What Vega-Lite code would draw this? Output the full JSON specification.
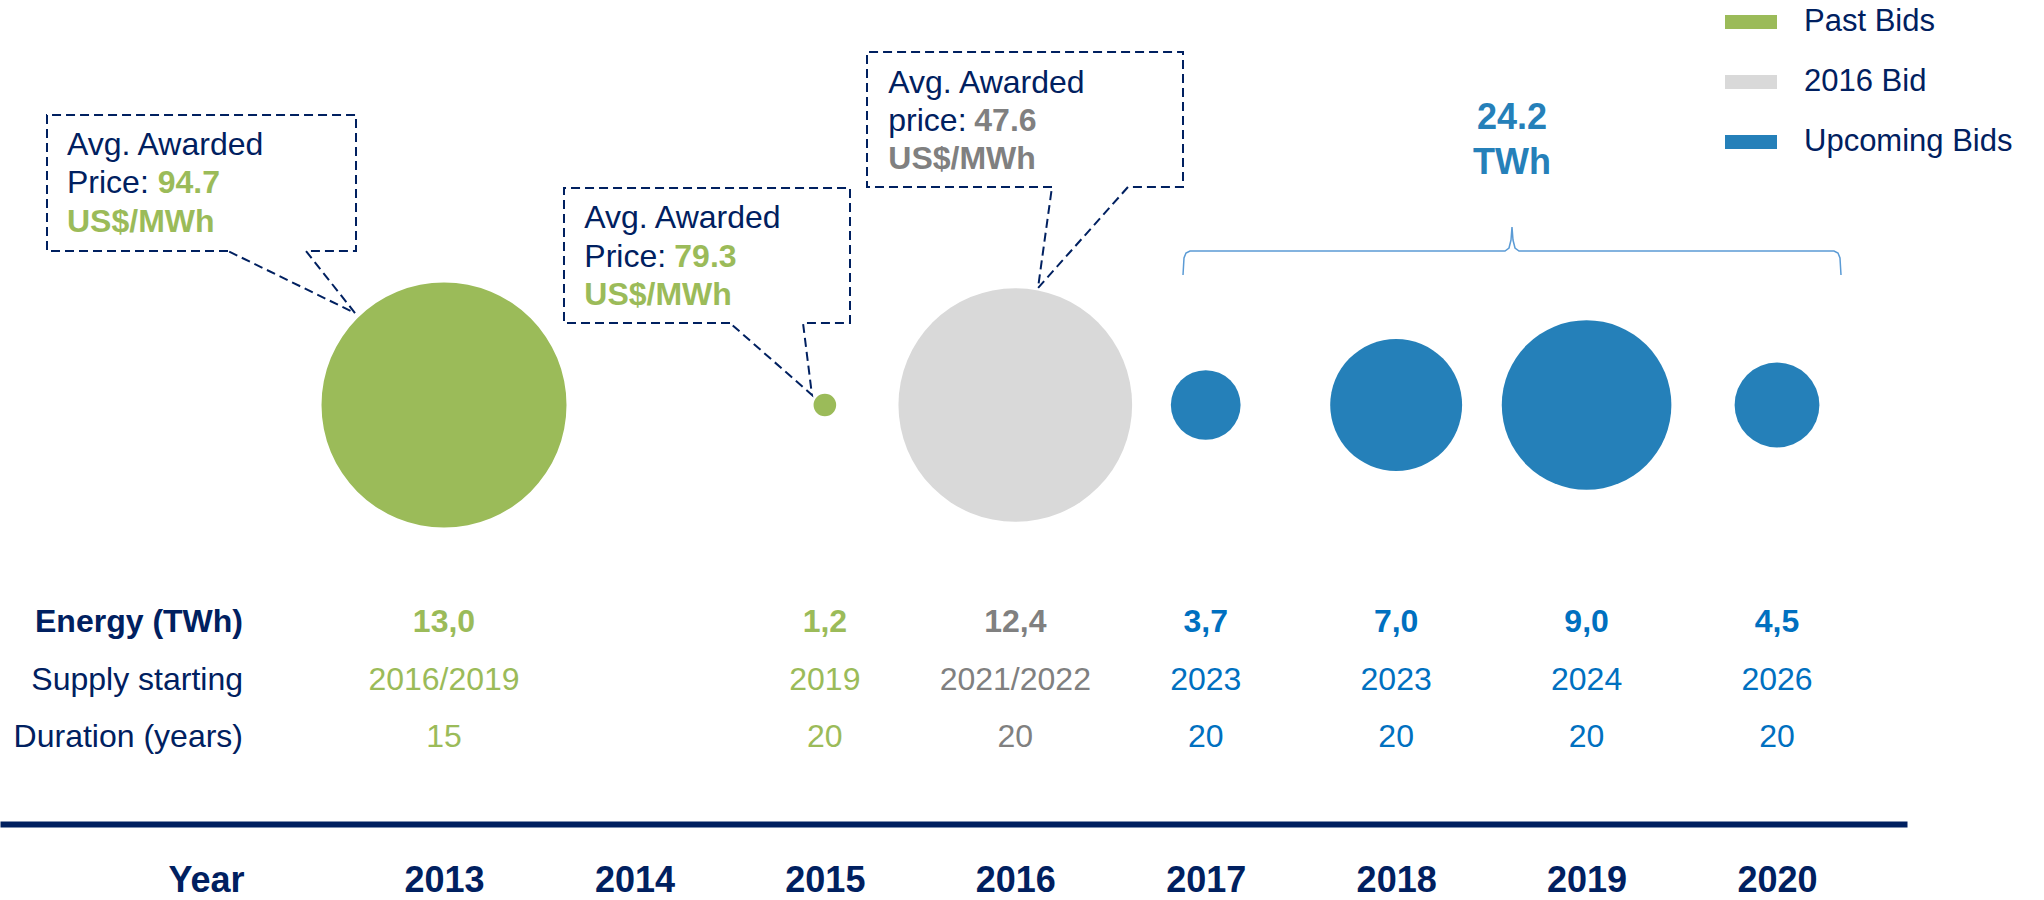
{
  "$schema": "https://vega.github.io/schema/vega-lite/v6.json",
  "width": 1907,
  "height": 824,
  "autosize": {"type": "none"},
  "padding": {"left": 0, "top": 0, "right": 137, "bottom": 76},
  "background": "white",
  "config": {"view": {"stroke": null}, "font": "Liberation Sans"},
  "datasets": {
    "bids": [
      {"year": 2013, "energy": 13.0, "energyText": "13,0", "supply": "2016/2019", "duration": "15", "cat": "Past Bids", "price": 94.7},
      {"year": 2015, "energy": 1.2, "energyText": "1,2", "supply": "2019", "duration": "20", "cat": "Past Bids", "price": 79.3},
      {"year": 2016, "energy": 12.4, "energyText": "12,4", "supply": "2021/2022", "duration": "20", "cat": "2016 Bid", "price": 47.6},
      {"year": 2017, "energy": 3.7, "energyText": "3,7", "supply": "2023", "duration": "20", "cat": "Upcoming Bids"},
      {"year": 2018, "energy": 7.0, "energyText": "7,0", "supply": "2023", "duration": "20", "cat": "Upcoming Bids"},
      {"year": 2019, "energy": 9.0, "energyText": "9,0", "supply": "2024", "duration": "20", "cat": "Upcoming Bids"},
      {"year": 2020, "energy": 4.5, "energyText": "4,5", "supply": "2026", "duration": "20", "cat": "Upcoming Bids"}
    ],
    "one": [{}],
    "callouts": [
      {"id": 1, "i": 1, "x": 2011.8657, "y": 69.54},
      {"id": 1, "i": 2, "x": 2010.9152, "y": 69.54},
      {"id": 1, "i": 3, "x": 2010.9152, "y": 86.04},
      {"id": 1, "i": 4, "x": 2012.5379, "y": 86.04},
      {"id": 1, "i": 5, "x": 2012.5379, "y": 69.54},
      {"id": 1, "i": 6, "x": 2012.2753, "y": 69.54},
      {"id": 1, "i": 7, "x": 2012.5326, "y": 62.01},
      {"id": 1, "i": 8, "x": 2011.8657, "y": 69.54},
      {"id": 2, "i": 1, "x": 2014.5018, "y": 60.80},
      {"id": 2, "i": 2, "x": 2013.6301, "y": 60.80},
      {"id": 2, "i": 3, "x": 2013.6301, "y": 77.18},
      {"id": 2, "i": 4, "x": 2015.1320, "y": 77.18},
      {"id": 2, "i": 5, "x": 2015.1320, "y": 60.80},
      {"id": 2, "i": 6, "x": 2014.8852, "y": 60.80},
      {"id": 2, "i": 7, "x": 2014.9324, "y": 52.06},
      {"id": 2, "i": 8, "x": 2014.5018, "y": 60.80},
      {"id": 3, "i": 1, "x": 2016.1927, "y": 77.31},
      {"id": 3, "i": 2, "x": 2015.2213, "y": 77.31},
      {"id": 3, "i": 3, "x": 2015.2213, "y": 93.69},
      {"id": 3, "i": 4, "x": 2016.8807, "y": 93.69},
      {"id": 3, "i": 5, "x": 2016.8807, "y": 77.31},
      {"id": 3, "i": 6, "x": 2016.5918, "y": 77.31},
      {"id": 3, "i": 7, "x": 2016.1192, "y": 65.05},
      {"id": 3, "i": 8, "x": 2016.1927, "y": 77.31}
    ],
    "brace": [
      {"i": 1, "x": 2016.8807, "y": 66.63},
      {"i": 2, "x": 2016.8859, "y": 68.69},
      {"i": 3, "x": 2016.8964, "y": 69.30},
      {"i": 4, "x": 2016.9174, "y": 69.54},
      {"i": 5, "x": 2018.5716, "y": 69.54},
      {"i": 6, "x": 2018.5926, "y": 69.90},
      {"i": 7, "x": 2018.6031, "y": 70.87},
      {"i": 8, "x": 2018.6083, "y": 72.45},
      {"i": 9, "x": 2018.6136, "y": 70.87},
      {"i": 10, "x": 2018.6241, "y": 69.90},
      {"i": 11, "x": 2018.6451, "y": 69.54},
      {"i": 12, "x": 2020.2992, "y": 69.54},
      {"i": 13, "x": 2020.3202, "y": 69.30},
      {"i": 14, "x": 2020.3307, "y": 68.69},
      {"i": 15, "x": 2020.3360, "y": 66.63}
    ]
  },
  "layer": [
    {
      "data": {"name": "bids"},
      "mark": {"type": "circle", "opacity": 1, "strokeWidth": 0},
      "encoding": {
        "x": {
          "field": "year", "type": "quantitative",
          "scale": {"domain": [2010.6684, 2020.6826], "nice": false, "zero": false},
          "axis": {
            "values": [2013, 2014, 2015, 2016, 2017, 2018, 2019, 2020],
            "format": "d", "grid": false, "ticks": false, "tickSize": 0,
            "domain": true, "domainColor": "#002060", "domainWidth": 6,
            "labelFont": "Liberation Sans", "labelFontSize": 36, "labelFontWeight": "bold",
            "labelColor": "#002060", "labelPadding": 67, "labelBaseline": "alphabetic",
            "labelFlush": false, "labelOverlap": false,
            "title": "Year", "titleFont": "Liberation Sans", "titleFontSize": 36,
            "titleFontWeight": "bold", "titleColor": "#002060",
            "titleX": 206, "titleY": 67, "titleBaseline": "alphabetic", "titleAlign": "center"
          }
        },
        "y": {"datum": 50.85, "type": "quantitative", "scale": {"domain": [0, 100], "nice": false, "zero": false}, "axis": null},
        "size": {"field": "energy", "type": "quantitative", "scale": {"type": "pow", "exponent": 2, "domain": [0, 13], "range": [0, 60025]}, "legend": null},
        "color": {
          "field": "cat", "type": "nominal",
          "scale": {"domain": ["Past Bids", "2016 Bid", "Upcoming Bids"], "range": ["#9BBB59", "#D9D9D9", "#2580B9"]},
          "legend": {
            "title": null, "orient": "none", "legendX": 1725, "legendY": -4,
            "symbolType": "M-1,-0.27L1,-0.27L1,0.27L-1,0.27Z", "symbolSize": 2704,
            "symbolStrokeWidth": 0, "symbolOpacity": 1,
            "labelFont": "Liberation Sans", "labelFontSize": 31, "labelColor": "#002060",
            "labelOffset": 27, "rowPadding": 19, "padding": 0, "labelLimit": 400
          }
        }
      }
    },
    {
      "data": {"name": "callouts"},
      "mark": {"type": "line", "strokeDash": [9, 5], "strokeWidth": 2, "color": "#002060"},
      "encoding": {
        "x": {"field": "x", "type": "quantitative", "scale": {"domain": [2010.6684, 2020.6826], "nice": false, "zero": false}},
        "y": {"field": "y", "type": "quantitative", "scale": {"domain": [0, 100], "nice": false, "zero": false}, "axis": null},
        "detail": {"field": "id", "type": "nominal"},
        "order": {"field": "i", "type": "quantitative"}
      }
    },
    {
      "data": {"name": "brace"},
      "mark": {"type": "line", "strokeWidth": 1.5, "color": "#5B9BD5"},
      "encoding": {
        "x": {"field": "x", "type": "quantitative", "scale": {"domain": [2010.6684, 2020.6826], "nice": false, "zero": false}},
        "y": {"field": "y", "type": "quantitative", "scale": {"domain": [0, 100], "nice": false, "zero": false}, "axis": null},
        "order": {"field": "i", "type": "quantitative"}
      }
    },
    {
      "data": {"name": "bids"},
      "mark": {"type": "text", "fontSize": 32, "fontWeight": "bold", "baseline": "alphabetic", "align": "center"},
      "encoding": {
        "x": {"field": "year", "type": "quantitative", "scale": {"domain": [2010.6684, 2020.6826], "nice": false, "zero": false}},
        "y": {"datum": 23.30, "type": "quantitative", "scale": {"domain": [0, 100], "nice": false, "zero": false}, "axis": null},
        "text": {"field": "energyText"},
        "color": {"field": "cat", "type": "nominal", "scale": {"domain": ["Past Bids", "2016 Bid", "Upcoming Bids"], "range": ["#9BBB59", "#808080", "#0070C0"]}, "legend": null}
      }
    },
    {
      "data": {"name": "bids"},
      "mark": {"type": "text", "fontSize": 32, "baseline": "alphabetic", "align": "center"},
      "encoding": {
        "x": {"field": "year", "type": "quantitative", "scale": {"domain": [2010.6684, 2020.6826], "nice": false, "zero": false}},
        "y": {"datum": 16.26, "type": "quantitative", "scale": {"domain": [0, 100], "nice": false, "zero": false}, "axis": null},
        "text": {"field": "supply"},
        "color": {"field": "cat", "type": "nominal", "scale": {"domain": ["Past Bids", "2016 Bid", "Upcoming Bids"], "range": ["#9BBB59", "#808080", "#0070C0"]}, "legend": null}
      }
    },
    {
      "data": {"name": "bids"},
      "mark": {"type": "text", "fontSize": 32, "baseline": "alphabetic", "align": "center"},
      "encoding": {
        "x": {"field": "year", "type": "quantitative", "scale": {"domain": [2010.6684, 2020.6826], "nice": false, "zero": false}},
        "y": {"datum": 9.34, "type": "quantitative", "scale": {"domain": [0, 100], "nice": false, "zero": false}, "axis": null},
        "text": {"field": "duration"},
        "color": {"field": "cat", "type": "nominal", "scale": {"domain": ["Past Bids", "2016 Bid", "Upcoming Bids"], "range": ["#9BBB59", "#808080", "#0070C0"]}, "legend": null}
      }
    },
    {
      "data": {"name": "one"},
      "mark": {"type": "text", "text": "Energy (TWh)", "fontSize": 32, "fontWeight": "bold", "baseline": "alphabetic", "align": "right", "color": "#002060"},
      "encoding": {
        "x": {"datum": 2011.9445, "type": "quantitative", "scale": {"domain": [2010.6684, 2020.6826], "nice": false, "zero": false}},
        "y": {"datum": 23.30, "type": "quantitative", "scale": {"domain": [0, 100], "nice": false, "zero": false}, "axis": null}
      }
    },
    {
      "data": {"name": "one"},
      "mark": {"type": "text", "text": "Supply starting", "fontSize": 32, "baseline": "alphabetic", "align": "right", "color": "#002060"},
      "encoding": {
        "x": {"datum": 2011.9445, "type": "quantitative", "scale": {"domain": [2010.6684, 2020.6826], "nice": false, "zero": false}},
        "y": {"datum": 16.26, "type": "quantitative", "scale": {"domain": [0, 100], "nice": false, "zero": false}, "axis": null}
      }
    },
    {
      "data": {"name": "one"},
      "mark": {"type": "text", "text": "Duration (years)", "fontSize": 32, "baseline": "alphabetic", "align": "right", "color": "#002060"},
      "encoding": {
        "x": {"datum": 2011.9445, "type": "quantitative", "scale": {"domain": [2010.6684, 2020.6826], "nice": false, "zero": false}},
        "y": {"datum": 9.34, "type": "quantitative", "scale": {"domain": [0, 100], "nice": false, "zero": false}, "axis": null}
      }
    },
    {
      "data": {"name": "one"},
      "mark": {"type": "text", "text": "24.2", "fontSize": 36, "fontWeight": "bold", "baseline": "alphabetic", "align": "center", "color": "#2580B9"},
      "encoding": {
        "x": {"datum": 2018.6083, "type": "quantitative", "scale": {"domain": [2010.6684, 2020.6826], "nice": false, "zero": false}},
        "y": {"datum": 84.31, "type": "quantitative", "scale": {"domain": [0, 100], "nice": false, "zero": false}, "axis": null}
      }
    },
    {
      "data": {"name": "one"},
      "mark": {"type": "text", "text": "TWh", "fontSize": 36, "fontWeight": "bold", "baseline": "alphabetic", "align": "center", "color": "#2580B9"},
      "encoding": {
        "x": {"datum": 2018.6083, "type": "quantitative", "scale": {"domain": [2010.6684, 2020.6826], "nice": false, "zero": false}},
        "y": {"datum": 78.85, "type": "quantitative", "scale": {"domain": [0, 100], "nice": false, "zero": false}, "axis": null}
      }
    },
    {
      "data": {"name": "one"},
      "mark": {"type": "text", "text": "Avg. Awarded", "fontSize": 32, "baseline": "alphabetic", "align": "left", "color": "#002060"},
      "encoding": {
        "x": {"datum": 2011.0202, "type": "quantitative", "scale": {"domain": [2010.6684, 2020.6826], "nice": false, "zero": false}},
        "y": {"datum": 81.19, "type": "quantitative", "scale": {"domain": [0, 100], "nice": false, "zero": false}, "axis": null}
      }
    },
    {
      "data": {"name": "one"},
      "mark": {"type": "text", "text": "Price:", "fontSize": 32, "baseline": "alphabetic", "align": "left", "color": "#002060"},
      "encoding": {
        "x": {"datum": 2011.0202, "type": "quantitative", "scale": {"domain": [2010.6684, 2020.6826], "nice": false, "zero": false}},
        "y": {"datum": 76.58, "type": "quantitative", "scale": {"domain": [0, 100], "nice": false, "zero": false}, "axis": null}
      }
    },
    {
      "data": {"name": "one"},
      "mark": {"type": "text", "text": "94.7", "fontSize": 32, "fontWeight": "bold", "baseline": "alphabetic", "align": "left", "color": "#9BBB59"},
      "encoding": {
        "x": {"datum": 2011.4965, "type": "quantitative", "scale": {"domain": [2010.6684, 2020.6826], "nice": false, "zero": false}},
        "y": {"datum": 76.58, "type": "quantitative", "scale": {"domain": [0, 100], "nice": false, "zero": false}, "axis": null}
      }
    },
    {
      "data": {"name": "one"},
      "mark": {"type": "text", "text": "US$/MWh", "fontSize": 32, "fontWeight": "bold", "baseline": "alphabetic", "align": "left", "color": "#9BBB59"},
      "encoding": {
        "x": {"datum": 2011.0202, "type": "quantitative", "scale": {"domain": [2010.6684, 2020.6826], "nice": false, "zero": false}},
        "y": {"datum": 71.84, "type": "quantitative", "scale": {"domain": [0, 100], "nice": false, "zero": false}, "axis": null}
      }
    },
    {
      "data": {"name": "one"},
      "mark": {"type": "text", "text": "Avg. Awarded", "fontSize": 32, "baseline": "alphabetic", "align": "left", "color": "#002060"},
      "encoding": {
        "x": {"datum": 2013.7367, "type": "quantitative", "scale": {"domain": [2010.6684, 2020.6826], "nice": false, "zero": false}},
        "y": {"datum": 72.29, "type": "quantitative", "scale": {"domain": [0, 100], "nice": false, "zero": false}, "axis": null}
      }
    },
    {
      "data": {"name": "one"},
      "mark": {"type": "text", "text": "Price:", "fontSize": 32, "baseline": "alphabetic", "align": "left", "color": "#002060"},
      "encoding": {
        "x": {"datum": 2013.7367, "type": "quantitative", "scale": {"domain": [2010.6684, 2020.6826], "nice": false, "zero": false}},
        "y": {"datum": 67.63, "type": "quantitative", "scale": {"domain": [0, 100], "nice": false, "zero": false}, "axis": null}
      }
    },
    {
      "data": {"name": "one"},
      "mark": {"type": "text", "text": "79.3", "fontSize": 32, "fontWeight": "bold", "baseline": "alphabetic", "align": "left", "color": "#9BBB59"},
      "encoding": {
        "x": {"datum": 2014.2093, "type": "quantitative", "scale": {"domain": [2010.6684, 2020.6826], "nice": false, "zero": false}},
        "y": {"datum": 67.63, "type": "quantitative", "scale": {"domain": [0, 100], "nice": false, "zero": false}, "axis": null}
      }
    },
    {
      "data": {"name": "one"},
      "mark": {"type": "text", "text": "US$/MWh", "fontSize": 32, "fontWeight": "bold", "baseline": "alphabetic", "align": "left", "color": "#9BBB59"},
      "encoding": {
        "x": {"datum": 2013.7367, "type": "quantitative", "scale": {"domain": [2010.6684, 2020.6826], "nice": false, "zero": false}},
        "y": {"datum": 62.99, "type": "quantitative", "scale": {"domain": [0, 100], "nice": false, "zero": false}, "axis": null}
      }
    },
    {
      "data": {"name": "one"},
      "mark": {"type": "text", "text": "Avg. Awarded", "fontSize": 32, "baseline": "alphabetic", "align": "left", "color": "#002060"},
      "encoding": {
        "x": {"datum": 2015.3331, "type": "quantitative", "scale": {"domain": [2010.6684, 2020.6826], "nice": false, "zero": false}},
        "y": {"datum": 88.75, "type": "quantitative", "scale": {"domain": [0, 100], "nice": false, "zero": false}, "axis": null}
      }
    },
    {
      "data": {"name": "one"},
      "mark": {"type": "text", "text": "price:", "fontSize": 32, "baseline": "alphabetic", "align": "left", "color": "#002060"},
      "encoding": {
        "x": {"datum": 2015.3331, "type": "quantitative", "scale": {"domain": [2010.6684, 2020.6826], "nice": false, "zero": false}},
        "y": {"datum": 84.14, "type": "quantitative", "scale": {"domain": [0, 100], "nice": false, "zero": false}, "axis": null}
      }
    },
    {
      "data": {"name": "one"},
      "mark": {"type": "text", "text": "47.6", "fontSize": 32, "fontWeight": "bold", "baseline": "alphabetic", "align": "left", "color": "#808080"},
      "encoding": {
        "x": {"datum": 2015.7847, "type": "quantitative", "scale": {"domain": [2010.6684, 2020.6826], "nice": false, "zero": false}},
        "y": {"datum": 84.14, "type": "quantitative", "scale": {"domain": [0, 100], "nice": false, "zero": false}, "axis": null}
      }
    },
    {
      "data": {"name": "one"},
      "mark": {"type": "text", "text": "US$/MWh", "fontSize": 32, "fontWeight": "bold", "baseline": "alphabetic", "align": "left", "color": "#808080"},
      "encoding": {
        "x": {"datum": 2015.3331, "type": "quantitative", "scale": {"domain": [2010.6684, 2020.6826], "nice": false, "zero": false}},
        "y": {"datum": 79.45, "type": "quantitative", "scale": {"domain": [0, 100], "nice": false, "zero": false}, "axis": null}
      }
    }
  ],
  "resolve": {"scale": {"color": "independent"}}
}
